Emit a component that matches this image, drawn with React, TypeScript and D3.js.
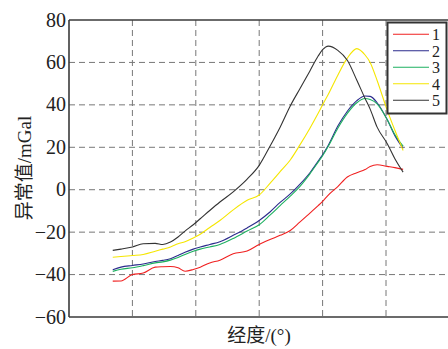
import * as d3 from "d3";

// longitude positions (arbitrary units, gridlines at 1..5)
const lon = [0.69, 0.82, 1.0, 1.17, 1.36, 1.48, 1.6, 1.72, 1.83, 1.96, 2.07, 2.22, 2.38, 2.59, 2.81, 3.0, 3.17, 3.33, 3.49, 3.64, 3.8, 3.93, 4.0, 4.09, 4.24, 4.39, 4.54, 4.67, 4.75, 4.86, 5.02, 5.14, 5.27];

const s1 = [-43.1, -43, -40, -39.3, -36.5, -36.3, -36.2, -36.8, -38.4, -37.6, -36.5, -34.5, -33.2, -30.2, -28.9, -25.8, -23.5, -21.5, -19.2, -15.3, -11, -7.5, -5.5, -2.5, 1.5, 6, 8, 9.5, 11, 11.8, 11, 10.4, 9.6];
const s2 = [-37.7, -36.5, -35.7, -35, -33.8, -33.3, -32.5, -31, -29.5, -28, -27, -25.8, -24.5, -21.5, -18, -14.5, -10.5, -6, -2, 2.5, 8, 13.5, 16.5, 21, 30, 37, 42, 44.2, 44, 41, 33, 25.5, 19.5];
const s3 = [-38.5, -37.5, -36.8, -35.8, -34.5, -34, -33.2, -32, -30.5, -29, -28, -27, -25.8, -23, -19.5, -16.5, -12, -7.5, -3, 1.5, 7.5, 13, 16, 20.5, 29, 36, 41, 43, 42.5, 40.5, 33, 26, 20.5];
const s4 = [-31.8, -31.5, -31, -30.5, -29, -28, -27, -25.5, -24.5, -22.8, -21, -17.8, -14.5, -9.5, -5, -2.5, 3, 8.5, 14, 21, 29, 36, 40, 45, 54, 62, 66.5, 63.5, 60, 51.5, 37.4, 28, 18.5];
const s5 = [-28.6, -28, -27, -25.5, -25.3, -25.8, -24.7, -22.3, -19.5, -16.5, -13.7, -9.8, -5.8, -1, 5, 11.5, 20.5, 29.5, 39.5, 47.5, 56, 63, 66, 67.7, 65.7, 61, 51.6, 43, 38, 29.5, 21.7, 14.6, 8.3];

const seriesNames = ["1", "2", "3", "4", "5"];
const seriesValues = [s1, s2, s3, s4, s5];
const colors = ["#f02020", "#2b2b8c", "#1db060", "#f5e600", "#333333"];

const yTicks = [-60, -40, -20, 0, 20, 40, 60, 80];
const xGrid = [1, 2, 3, 4, 5];

const W = 448;
const H = 349;
const left = 69;
const top = 20;
const bottom = 317;

const serif = '"Liberation Serif", "Times New Roman", serif';
const cjk = '"Liberation Serif", "Noto Sans CJK SC", serif';

export default function App() {
  const x = d3.scaleLinear().domain([0, 6]).range([left, 449.4]);
  const y = d3.scaleLinear().domain([-60, 80]).range([bottom, top]);
  const fmt = d3.format("d");

  const line = d3
    .line<number>()
    .x((_, i) => x(lon[i]))
    .y((d) => y(d))
    .curve(d3.curveMonotoneX);

  return (
    <svg
      width={W}
      height={H}
      style={{ position: "absolute", left: 0, top: 0, background: "#fff" }}
    >
      {/* grid */}
      <g stroke="#777" strokeWidth={1} strokeDasharray="6,4">
        {yTicks
          .filter((t) => t > -60 && t < 80)
          .map((t) => (
            <line key={"h" + t} x1={left} x2={W} y1={y(t)} y2={y(t)} />
          ))}
        {xGrid.map((t) => (
          <line key={"v" + t} x1={x(t)} x2={x(t)} y1={top} y2={bottom} />
        ))}
      </g>

      {/* series */}
      <g fill="none" strokeWidth={1.1}>
        {seriesValues.map((vals, i) => (
          <path key={i} d={line(vals) || ""} stroke={colors[i]} />
        ))}
      </g>

      {/* frame */}
      <g stroke="#3a3a3a" strokeWidth={1.6} fill="none">
        <line x1={left} x2={W} y1={top} y2={top} />
        <line x1={left} x2={W} y1={bottom} y2={bottom} />
        <line x1={left} x2={left} y1={top} y2={bottom} />
      </g>

      {/* y tick labels */}
      <g fontFamily={serif} fontSize={20} fill="#222" textAnchor="end">
        {yTicks.map((t) => (
          <text key={t} x={66} y={y(t) + 6.5}>
            {fmt(t)}
          </text>
        ))}
      </g>

      {/* axis titles */}
      <text
        transform={`translate(31,168) rotate(-90)`}
        textAnchor="middle"
        fontFamily={cjk}
        fontSize={19}
        fill="#222"
      >
        异常值/mGal
      </text>
      <text x={259} y={342} textAnchor="middle" fontFamily={cjk} fontSize={19} fill="#222">
        经度/(°)
      </text>

      {/* legend */}
      <rect x={387.5} y={22.5} width={59} height={91} fill="#fff" stroke="#333" strokeWidth={2} />
      {seriesNames.map((name, i) => {
        const ly = 34.3 + i * 16.5;
        return (
          <g key={name}>
            <line x1={393} x2={429} y1={ly} y2={ly} stroke={colors[i]} strokeWidth={1.1} />
            <text x={432} y={ly + 6} fontFamily={serif} fontSize={16} fill="#222">
              {name}
            </text>
          </g>
        );
      })}
    </svg>
  );
}
